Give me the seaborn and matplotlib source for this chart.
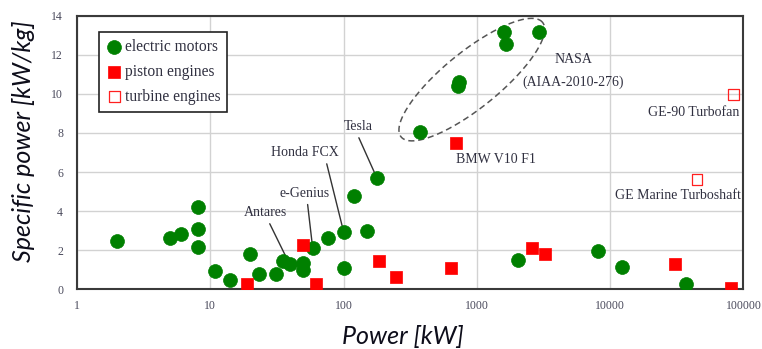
import numpy as np
import matplotlib
matplotlib.use("Agg")
import matplotlib.pyplot as plt
import seaborn as sns
from matplotlib.ticker import FixedLocator, FixedFormatter, NullLocator

# ---------------- data ----------------
electric_power = [2, 5, 6, 8.1, 8.1, 8.1, 10.9, 14.1, 19.7, 23.2, 31.3, 35.1, 39.4,
                  49.9, 49.9, 58.6, 75.9, 100, 100, 120, 150, 178, 372, 725, 738,
                  1600, 1640, 2920, 2020, 8040, 12300, 37200]
electric_spec = [2.47, 2.64, 2.81, 4.19, 3.08, 2.15, 0.94, 0.48, 1.79, 0.80, 0.80, 1.45, 1.28,
                 1.36, 0.99, 2.13, 2.64, 2.95, 1.07, 4.77, 2.98, 5.69, 8.03, 10.40, 10.62,
                 13.18, 12.53, 13.16, 1.50, 1.96, 1.14, 0.27]

piston_power = [19.0, 49.9, 61.7, 183, 246, 643, 697, 2570, 3270, 30600, 80500]
piston_spec = [0.27, 2.27, 0.27, 1.45, 0.65, 1.07, 7.47, 2.10, 1.79, 1.28, 0.05]

turbine_power = [84200, 44800]
turbine_spec = [9.97, 5.60]

series_labels = ["electric motors", "piston engines", "turbine engines"]

xtick_values = [1, 10, 100, 1000, 10000, 100000]
xtick_labels = ["1", "10", "100", "1000", "10000", "100000"]
ytick_values = [0, 2, 4, 6, 8, 10, 12, 14]

# annotations: (text, text position x, text position y, point x, point y)
leader_notes = [
    ("Tesla", 128.9, 8.32, 178, 5.69, (0.45, 0.0)),
    ("Honda FCX", 51.6, 6.99, 100, 2.95, (0.8, 0.0)),
    ("e-Genius", 51.0, 4.91, 58.6, 2.13, (0.55, 0.0)),
    ("Antares", 25.9, 3.92, 39.4, 1.28, (0.55, 0.0)),
]
plain_notes = [
    ("NASA", 5310, 11.76, "center"),
    ("(AIAA-2010-276)", 5310, 10.62, "center"),
    ("BMW V10 F1", 1400, 6.65, "center"),
    ("GE-90 Turbofan", 93500, 9.07, "right"),
    ("GE Marine Turboshaft", 95800, 4.79, "right"),
]

# ---------------- style ----------------
sns.set_style("white")
plt.rcParams['font.family'] = ['Liberation Serif', 'DejaVu Serif']

fig, ax = plt.subplots(figsize=(7.62, 3.49), dpi=100)
fig.subplots_adjust(left=0.101, right=0.9757, bottom=0.171, top=0.955)

green = '#008000'
red = '#ff0000'

sns.scatterplot(x=electric_power, y=electric_spec, marker='o', s=100, color=green,
                edgecolor=green, linewidth=0.5, label=series_labels[0], ax=ax, zorder=4)
sns.scatterplot(x=piston_power, y=piston_spec, marker='s', s=78, color=red,
                edgecolor=red, linewidth=0.5, label=series_labels[1], ax=ax, zorder=4)
sns.scatterplot(x=turbine_power, y=turbine_spec, marker='s', s=62, color=red,
                label=series_labels[2], ax=ax, zorder=4)
tcoll = ax.collections[-1]
tcoll.set_facecolor('none')
tcoll.set_edgecolor('#ff2020')
tcoll.set_linewidth(0.9)

ax.set_xscale('log')
ax.set_xlim(1, 100000)
ax.set_ylim(0, 14)
ax.xaxis.set_major_locator(FixedLocator(xtick_values))
ax.xaxis.set_major_formatter(FixedFormatter(xtick_labels))
ax.xaxis.set_minor_locator(NullLocator())
ax.set_yticks(ytick_values)
ax.set_xlabel("")
ax.set_ylabel("")

ax.grid(True, color='#d2d2d2', lw=1.0)
ax.set_axisbelow(True)
for s in ax.spines.values():
    s.set_visible(True)
    s.set_color('#3a3a3a')
    s.set_linewidth(1.5)
ax.tick_params(direction='out', length=4, width=1.2, color='#3a3a3a',
               labelsize=8.5, labelcolor='#4a4a5c')
ax.tick_params(axis='y', pad=6)
ax.tick_params(axis='x', pad=4)

# dashed ellipse around NASA points (built in log-space)
pos = ax.get_position()
ax_w_px = pos.width * fig.get_figwidth() * fig.dpi
ax_h_px = pos.height * fig.get_figheight() * fig.dpi
px_per_decade = ax_w_px / 5.0
px_per_unit = ax_h_px / 14.0
t = np.linspace(0, 2 * np.pi, 300)
a_px, b_px, th = 91.0, 28.0, np.deg2rad(39)
uc, yc = 2.962, 10.73
dx = a_px * np.cos(th) * np.cos(t) - b_px * np.sin(th) * np.sin(t)
dy = a_px * np.sin(th) * np.cos(t) + b_px * np.cos(th) * np.sin(t)
ax.plot(10 ** (uc + dx / px_per_decade), yc + dy / px_per_unit,
        ls=(0, (4, 2.5)), color='#555555', lw=1.1, zorder=3)

txt_color = '#303040'
for txt, tx, ty, px, py, rp in leader_notes:
    ax.annotate(txt, xy=(px, py), xytext=(tx, ty), ha='center', va='center',
                fontsize=10, color=txt_color, zorder=2,
                arrowprops=dict(arrowstyle='-', color='#333333', lw=1.0,
                                shrinkA=1, shrinkB=0, relpos=rp))
for txt, tx, ty, ha in plain_notes:
    ax.text(tx, ty, txt, ha=ha, va='center', fontsize=10, color=txt_color, zorder=5)

leg = ax.legend(loc='upper left', bbox_to_anchor=(0.0335, 0.9415), borderaxespad=0,
                frameon=True, fancybox=False, edgecolor='#222222', framealpha=1,
                fontsize=11.2, labelspacing=0.58, handletextpad=0.2, handlelength=1.0,
                borderpad=0.45)
leg.get_frame().set_linewidth(1.2)
for t_ in leg.get_texts():
    t_.set_color('#303040')

lab_font = dict(family=['Lato', 'DejaVu Sans'], style='italic', size=18, color='#0d0d1a')
fig.text(403 / 762, 1 - 344 / 349, "Power [kW]", ha='center', va='baseline', **lab_font)
fig.text(31 / 762, 1 - 141 / 349, "Specific power [kW/kg]", ha='center', va='baseline',
         rotation=90, rotation_mode='anchor', **lab_font)

fig.savefig("out.png", dpi=100)
